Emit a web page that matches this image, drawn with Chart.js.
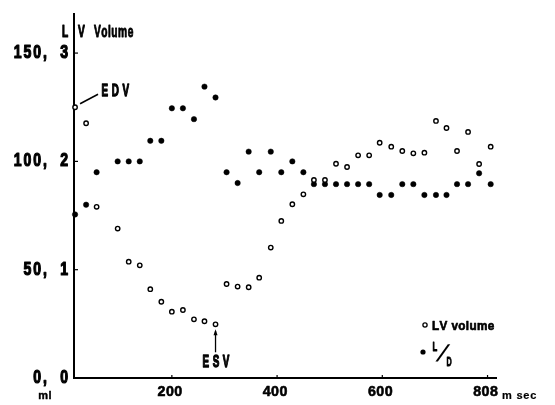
<!DOCTYPE html>
<html><head><meta charset="utf-8">
<script src="https://cdn.jsdelivr.net/npm/chart.js@4"></script>
<style>html,body{margin:0;padding:0;background:#fff}#wrap{width:555px;height:405px;position:relative}</style>
</head><body><div id="wrap"><canvas id="c"></canvas></div>
<script>
// Time (ms) of each frame
const timeMs = [16,37,57,97,118,139,159,180,200,221,242,262,283,304,325,346,366,388,408,429,450,470,491,512,533,554,575,595,617,638,659,680,702,722,742,763,784,806];
// LV volume (ml)
const lvVolume = [125,117.6,79,69,53.7,52,41,35.2,30.6,31.4,27.1,26.2,24.8,43.4,42.2,41.9,46.3,60.2,72.5,80.2,84.8,91.4,91.4,98.9,97.4,102.8,102.8,108.6,106.8,104.8,103.7,104,118.7,115.4,104.8,113.6,98.8,106.8];
// L/D ratio
const ldRatio = [1.51,1.60,1.90,2.00,2.00,2.00,2.19,2.19,2.49,2.49,2.39,2.69,2.59,1.90,1.80,2.09,1.90,2.09,1.90,2.00,1.90,1.79,1.79,1.79,1.79,1.79,1.79,1.69,1.69,1.79,1.79,1.69,1.69,1.69,1.79,1.79,1.89,1.79];
// Tick labels
const xTicks = [200,400,600,800];
const xTickLabels = ["200","400","600","808"];
const mlTicks = [0,50,100,150];
const ldTicks = [0,1,2,3];

const FONT = "'Liberation Sans',Arial,'DejaVu Sans',sans-serif";

const lvPoints = timeMs.map((t,i)=>({x:t,y:lvVolume[i]}));
const ldPoints = timeMs.map((t,i)=>({x:t,y:ldRatio[i]}));

// draw text with horizontal compression, letter spacing and extra weight
function drawText(ctx, str, x, y, size, sx, sp, align, w, skew){
  w = w || 0; skew = skew || 0;
  ctx.save();
  ctx.font = 'bold ' + size + 'px ' + FONT;
  ctx.textBaseline = 'middle';
  ctx.textAlign = 'left';
  ctx.lineJoin = 'round';
  const ws = str.split('').map(ch => ctx.measureText(ch).width * sx);
  const total = ws.reduce((a,b)=>a+b,0) + sp*(str.length-1);
  let cx = align==='right' ? x-total : align==='center' ? x-total/2 : x;
  str.split('').forEach((ch,i)=>{
    ctx.save(); ctx.translate(cx, y); ctx.transform(sx,0,skew,1,0,0);
    ctx.fillText(ch,0,0);
    if (w > 0) { ctx.lineWidth = w; ctx.strokeText(ch,0,0); }
    ctx.restore();
    cx += ws[i] + sp;
  });
  ctx.restore();
}

const decor = {
  id:'decor',
  beforeDatasetsDraw(chart){
    const ctx = chart.ctx, a = chart.chartArea;
    const xs = chart.scales.x, ym = chart.scales.yml;
    ctx.save();
    ctx.strokeStyle = '#000'; ctx.lineWidth = 2;
    ctx.beginPath();
    ctx.moveTo(a.left, a.top); ctx.lineTo(a.left, a.bottom); ctx.lineTo(a.right, a.bottom);
    ctx.stroke();
    ctx.lineWidth = 1.2;
    xTicks.forEach(v=>{const px = xs.getPixelForValue(v); ctx.beginPath(); ctx.moveTo(px,a.bottom); ctx.lineTo(px,a.bottom-3); ctx.stroke();});
    mlTicks.forEach(v=>{const py = ym.getPixelForValue(v); if(v===0) return; ctx.beginPath(); ctx.moveTo(a.left,py); ctx.lineTo(a.left+4,py); ctx.stroke();});
    ctx.restore();
  },
  afterDraw(chart){
    const ctx = chart.ctx;
    const xs = chart.scales.x, ym = chart.scales.yml, yl = chart.scales.yld;
    ctx.save();
    ctx.fillStyle = '#000'; ctx.strokeStyle='#000';
    // y labels
    mlTicks.forEach((v,i)=>{
      drawText(ctx, String(v)+',', 47, ym.getPixelForValue(v), 18, 0.78, 2, 'right', 1.2);
      drawText(ctx, String(ldTicks[i]), 68, yl.getPixelForValue(ldTicks[i]), 18, 0.78, 0, 'right', 1.2);
    });
    drawText(ctx, 'ml', 45, 396, 11, 1, 0.5, 'center', 0.4);
    // x labels
    xTicks.forEach((v,i)=>{ drawText(ctx, xTickLabels[i], xs.getPixelForValue(v)-2, 392, 15, 0.95, 0.5, 'center', 0.6); });
    drawText(ctx, 'm sec', 502, 396, 11, 1, 0.8, 'left', 0.2);
    // axis title
    drawText(ctx, 'L', 62, 32, 17, 0.6, 0, 'left', 1.1);
    drawText(ctx, 'V', 78, 32, 17, 0.6, 0, 'left', 1.1);
    drawText(ctx, 'Volume', 94, 32, 17, 0.6, 0.5, 'left', 0.9);
    // EDV
    const ex = xs.getPixelForValue(timeMs[0]), ey = ym.getPixelForValue(lvVolume[0]);
    ctx.lineWidth = 1.5;
    ctx.beginPath(); ctx.moveTo(ex+5, ey-3.5); ctx.lineTo(ex+23, ey-13); ctx.stroke();
    drawText(ctx, 'EDV', 101.5, 91, 17, 0.58, 3.6, 'left', 1.3);
    // ESV
    const sx = xs.getPixelForValue(timeMs[12]), sy = ym.getPixelForValue(lvVolume[12]);
    ctx.lineWidth = 1.3;
    ctx.beginPath(); ctx.moveTo(sx, sy+7); ctx.lineTo(sx, sy+28); ctx.stroke();
    ctx.beginPath(); ctx.moveTo(sx, sy+5); ctx.lineTo(sx-2, sy+11); ctx.lineTo(sx+2, sy+11); ctx.closePath(); ctx.fill();
    drawText(ctx, 'ESV', 202.5, 362, 17, 0.58, 3.6, 'left', 1.3);
    // legend
    ctx.lineWidth = 1.3;
    ctx.beginPath(); ctx.arc(425, 325, 2.1, 0, Math.PI*2); ctx.stroke();
    drawText(ctx, 'LV volume', 432, 326, 13, 0.9, 0.4, 'left', 0.7);
    ctx.beginPath(); ctx.arc(423, 352, 2.6, 0, Math.PI*2); ctx.fill();
    drawText(ctx, 'L', 432.5, 347, 13, 0.6, 0, 'left', 0.9);
    drawText(ctx, 'D', 446.5, 362.5, 13, 0.55, 0, 'left', 0.9);
    drawText(ctx, '/', 439, 355, 23, 0.9, 0, 'left', 0, -0.55);
    ctx.restore();
  }
};

new Chart(document.getElementById('c'), {
  type: 'scatter',
  data: { datasets: [
    { label:'L/D', data: ldPoints, yAxisID:'yld', pointRadius:2.7, pointBackgroundColor:'#000', pointBorderColor:'#000', pointBorderWidth:0.5, clip:false, order:2 },
    { label:'LV volume', data: lvPoints, yAxisID:'yml', pointRadius:2.2, pointBackgroundColor:'#fff', pointBorderColor:'#000', pointBorderWidth:1.4, clip:false, order:1 }
  ]},
  options: {
    responsive:true, maintainAspectRatio:false, animation:false,
    layout:{ padding:{ left:74, right:58, top:13, bottom:27 } },
    plugins:{ legend:{display:false}, tooltip:{enabled:false} },
    scales:{
      x:{ type:'linear', min:14, max:818, display:false },
      yml:{ type:'linear', min:0, max:168.5, display:false },
      yld:{ type:'linear', min:0, max:3.37, display:false }
    }
  },
  plugins:[decor]
});
</script></body></html>
